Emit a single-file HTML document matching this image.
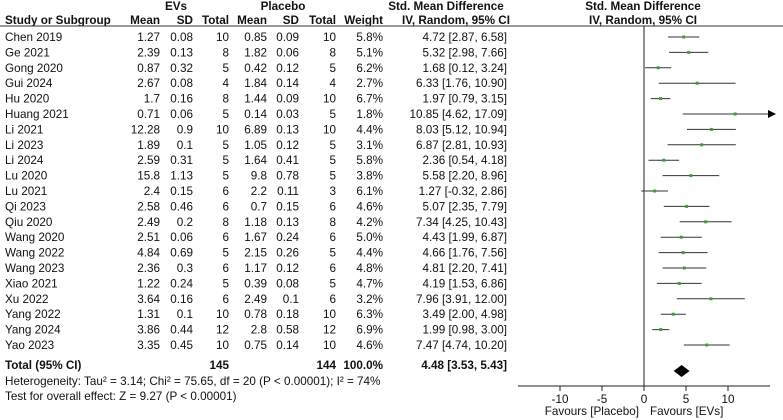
<!DOCTYPE html>
<html><head><meta charset="utf-8"><style>
html,body{margin:0;padding:0;background:#fff;}
svg{display:block;font-family:"Liberation Sans",Arial,sans-serif;font-size:11.7px;fill:#111;}
.b{font-weight:bold;}
</style></head><body>
<svg id="s" width="783" height="420" viewBox="0 0 783 420" xmlns="http://www.w3.org/2000/svg">
<text x="176" y="10" text-anchor="middle" class="b">EVs</text>
<text x="283" y="10" text-anchor="middle" class="b">Placebo</text>
<text x="446" y="10" text-anchor="middle" class="b">Std. Mean Difference</text>
<text x="643" y="10" text-anchor="middle" class="b">Std. Mean Difference</text>
<text x="5" y="24" class="b">Study or Subgroup</text>
<text x="160" y="24" text-anchor="end" class="b">Mean</text>
<text x="193" y="24" text-anchor="end" class="b">SD</text>
<text x="229" y="24" text-anchor="end" class="b">Total</text>
<text x="267" y="24" text-anchor="end" class="b">Mean</text>
<text x="299" y="24" text-anchor="end" class="b">SD</text>
<text x="336" y="24" text-anchor="end" class="b">Total</text>
<text x="383" y="24" text-anchor="end" class="b">Weight</text>
<text x="510" y="24" text-anchor="end" class="b">IV, Random, 95% CI</text>
<text x="643" y="24" text-anchor="middle" class="b">IV, Random, 95% CI</text>
<line x1="0" y1="26" x2="783" y2="26" stroke="#333" stroke-width="1"/>
<line x1="644" y1="26" x2="644" y2="386" stroke="#222" stroke-width="1"/>
<g id="rows"></g>
<text x="5" y="369" class="b">Total (95% CI)</text>
<text x="229" y="369" text-anchor="end" class="b">145</text>
<text x="336" y="369" text-anchor="end" class="b">144</text>
<text x="383" y="369" text-anchor="end" class="b">100.0%</text>
<text x="507" y="369" text-anchor="end" class="b">4.48 [3.53, 5.43]</text>
<polygon points="673.7,371 681.6,365 689.6,371 681.6,377" fill="#000"/>
<text x="5" y="385">Heterogeneity: Tau² = 3.14; Chi² = 75.65, df = 20 (P &lt; 0.00001); I² = 74%</text>
<text x="5" y="400">Test for overall effect: Z = 9.27 (P &lt; 0.00001)</text>
<line x1="518" y1="386" x2="770" y2="386" stroke="#222"/>
<g stroke="#222">
<line x1="560" y1="386" x2="560" y2="391"/><line x1="602" y1="386" x2="602" y2="391"/>
<line x1="644" y1="386" x2="644" y2="391"/><line x1="686" y1="386" x2="686" y2="391"/>
<line x1="728" y1="386" x2="728" y2="391"/></g>
<text x="560" y="403" text-anchor="middle">-10</text>
<text x="602" y="403" text-anchor="middle">-5</text>
<text x="644" y="403" text-anchor="middle">0</text>
<text x="686" y="403" text-anchor="middle">5</text>
<text x="728" y="403" text-anchor="middle">10</text>
<text x="639" y="415" text-anchor="end">Favours [Placebo]</text>
<text x="650" y="415">Favours [EVs]</text>
</svg>
<script>
var d=[
["Chen 2019","1.27","0.08","10","0.85","0.09","10","5.8%",4.72,2.87,6.58],
["Ge 2021","2.39","0.13","8","1.82","0.06","8","5.1%",5.32,2.98,7.66],
["Gong 2020","0.87","0.32","5","0.42","0.12","5","6.2%",1.68,0.12,3.24],
["Gui 2024","2.67","0.08","4","1.84","0.14","4","2.7%",6.33,1.76,10.90],
["Hu 2020","1.7","0.16","8","1.44","0.09","10","6.7%",1.97,0.79,3.15],
["Huang 2021","0.71","0.06","5","0.14","0.03","5","1.8%",10.85,4.62,17.09],
["Li 2021","12.28","0.9","10","6.89","0.13","10","4.4%",8.03,5.12,10.94],
["Li 2023","1.89","0.1","5","1.05","0.12","5","3.1%",6.87,2.81,10.93],
["Li 2024","2.59","0.31","5","1.64","0.41","5","5.8%",2.36,0.54,4.18],
["Lu 2020","15.8","1.13","5","9.8","0.78","5","3.8%",5.58,2.20,8.96],
["Lu 2021","2.4","0.15","6","2.2","0.11","3","6.1%",1.27,-0.32,2.86],
["Qi 2023","2.58","0.46","6","0.7","0.15","6","4.6%",5.07,2.35,7.79],
["Qiu 2020","2.49","0.2","8","1.18","0.13","8","4.2%",7.34,4.25,10.43],
["Wang 2020","2.51","0.06","6","1.67","0.24","6","5.0%",4.43,1.99,6.87],
["Wang 2022","4.84","0.69","5","2.15","0.26","5","4.4%",4.66,1.76,7.56],
["Wang 2023","2.36","0.3","6","1.17","0.12","6","4.8%",4.81,2.20,7.41],
["Xiao 2021","1.22","0.24","5","0.39","0.08","5","4.7%",4.19,1.53,6.86],
["Xu 2022","3.64","0.16","6","2.49","0.1","6","3.2%",7.96,3.91,12.00],
["Yang 2022","1.31","0.1","10","0.78","0.18","10","6.3%",3.49,2.00,4.98],
["Yang 2024","3.86","0.44","12","2.8","0.58","12","6.9%",1.99,0.98,3.00],
["Yao 2023","3.35","0.45","10","0.75","0.14","10","4.6%",7.47,4.74,10.20]];
var xs=[null,160,193,229,267,299,336,383],h="";
function X(v){return 644+8.4*v;}
function f(v){return v.toFixed(2);}
d.forEach(function(r,i){
 var y=37+i*15.4,ty=y+4;
 h+='<text x="5" y="'+ty+'">'+r[0]+'</text>';
 for(var k=1;k<8;k++)h+='<text x="'+xs[k]+'" y="'+ty+'" text-anchor="end">'+r[k]+'</text>';
 h+='<text x="507" y="'+ty+'" text-anchor="end">'+f(r[8])+' ['+f(r[9])+', '+f(r[10])+']</text>';
 var x1=X(r[9]),x2=Math.min(X(r[10]),770);
 h+='<line x1="'+x1+'" y1="'+y+'" x2="'+x2+'" y2="'+y+'" stroke="#333" stroke-width="1"/>';
 if(X(r[10])>770)h+='<polygon points="776,'+y+' 768,'+(y-4)+' 768,'+(y+4)+'" fill="#000"/>';
 h+='<rect x="'+(X(r[8])-1.5)+'" y="'+(y-1.5)+'" width="3" height="3" fill="#3aa03a"/>';
});
document.getElementById("rows").innerHTML=h;
</script>
</body></html>
